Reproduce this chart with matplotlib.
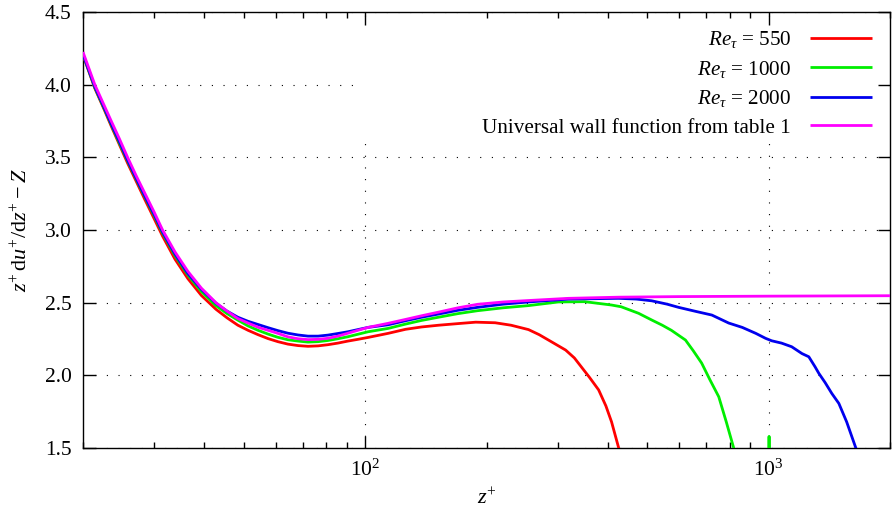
import numpy as np
import matplotlib
matplotlib.use("Agg")
import matplotlib.pyplot as plt
from matplotlib.patches import Rectangle
from matplotlib.ticker import FormatStrFormatter, NullFormatter, LogLocator

plt.rcParams['font.family'] = ['Liberation Serif', 'DejaVu Serif']
plt.rcParams['mathtext.fontset'] = 'custom'
plt.rcParams['mathtext.rm'] = 'Liberation Serif'
plt.rcParams['mathtext.it'] = 'Liberation Serif:italic'
plt.rcParams['mathtext.bf'] = 'Liberation Serif:bold'

# shared z+ points of the near-wall part
z_wall_part = [20, 21.4, 22.5, 23.5, 24.6, 25.8, 27.1, 28.5, 30, 31.5, 33.8, 36.4, 39.3,
               42.7, 45.5, 48.4, 51.3, 54.3, 57.5, 60.8, 64.4, 68.2, 72.2, 76.5, 80.9,
               85.6, 90.7, 96, 101.7, 114, 126, 138, 152]

# Re_tau = 550
z_550 = z_wall_part + [173, 188, 210, 230, 254, 270, 290, 314, 330, 343, 360, 379, 395,
                       408, 425, 440]
y_550 = [4.205, 3.975, 3.838, 3.715, 3.59, 3.46, 3.335, 3.207, 3.08, 2.958, 2.80, 2.665, 2.55,
         2.455, 2.396, 2.345, 2.31, 2.28, 2.253, 2.232, 2.215, 2.205, 2.20, 2.203, 2.211,
         2.222, 2.236, 2.248, 2.261, 2.289, 2.317, 2.333, 2.345,
         2.358, 2.366, 2.362, 2.345, 2.315, 2.28, 2.23, 2.174, 2.12, 2.06, 1.985, 1.90, 1.79,
         1.68, 1.5, 1.35]

# Re_tau = 1000
z_1000 = z_wall_part + [170, 190, 220, 254, 301, 350, 408, 431, 476, 513, 545, 574, 622,
                        650, 682, 715, 752, 785, 819, 900, 996, 1002, 1008]
y_1000 = [4.21, 3.98, 3.845, 3.725, 3.60, 3.475, 3.35, 3.225, 3.10, 2.978, 2.825, 2.69, 2.577,
          2.48, 2.425, 2.38, 2.34, 2.31, 2.284, 2.262, 2.245, 2.236, 2.229, 2.232, 2.24,
          2.252, 2.266, 2.283, 2.30, 2.323, 2.353, 2.378, 2.40,
          2.425, 2.445, 2.465, 2.48, 2.505, 2.507, 2.484, 2.472, 2.427, 2.381, 2.345, 2.31, 2.243,
          2.17, 2.085, 1.97, 1.853, 1.68, 1.5, 1.0, 0.6, 1.58, 0.6]

# Re_tau = 2000
z_2000 = z_wall_part + [170, 190, 220, 254, 319, 425, 470, 513, 560, 598,
                        660, 723, 796, 860, 929, 982, 1017, 1076, 1140, 1209, 1257, 1302, 1331,
                        1380, 1433, 1492, 1560, 1644, 1700]
y_2000 = [4.21, 3.985, 3.85, 3.73, 3.61, 3.48, 3.355, 3.23, 3.108, 2.985, 2.835, 2.70, 2.592,
          2.497, 2.442, 2.40, 2.372, 2.35, 2.328, 2.308, 2.29, 2.278, 2.27, 2.27, 2.277,
          2.288, 2.30, 2.315, 2.33, 2.348, 2.376, 2.40, 2.422,
          2.448, 2.468, 2.49, 2.505, 2.525, 2.530, 2.525, 2.513, 2.49, 2.468,
          2.44, 2.415, 2.36, 2.33, 2.289, 2.255, 2.238, 2.222, 2.197, 2.15, 2.128, 2.06, 2.014,
          1.95, 1.876, 1.807, 1.68, 1.5, 1.38]

# universal wall function
z_wall = z_wall_part + [170, 190, 220, 254, 319, 425, 600, 1000, 2000]
y_wall = [4.225, 4.0, 3.866, 3.75, 3.63, 3.5, 3.373, 3.25, 3.125, 3.0, 2.85, 2.715, 2.60,
          2.5, 2.442, 2.391, 2.36, 2.331, 2.31, 2.289, 2.265, 2.252, 2.246, 2.248, 2.255,
          2.27, 2.29, 2.31, 2.33, 2.358, 2.385, 2.41, 2.435,
          2.465, 2.489, 2.505, 2.515, 2.53, 2.538, 2.542, 2.545, 2.548]

labels = [r'$Re_{\tau}$ = 550', r'$Re_{\tau}$ = 1000', r'$Re_{\tau}$ = 2000',
          'Universal wall function from table 1']
colors = ['#ff0000', '#00ee00', '#0000ee', '#ff00ff']

fig = plt.figure(figsize=(8.92, 5.15), dpi=100)
ax = fig.add_axes([0.093, 0.130, 0.905, 0.8467])

series = [(z_550, y_550), (z_1000, y_1000), (z_2000, y_2000), (z_wall, y_wall)]
for (zz, yy), c, lab in zip(series, colors, labels):
    ax.plot(zz, yy, color=c, lw=2.0, label=lab, zorder=3, solid_capstyle='butt',
            solid_joinstyle='round')

ax.set_xscale('log')
ax.set_xlim(20, 2000)
ax.set_ylim(1.5, 4.5)
ax.set_yticks(np.arange(1.5, 4.51, 0.5))
ax.yaxis.set_major_formatter(FormatStrFormatter('%.1f'))
ax.xaxis.set_minor_locator(LogLocator(base=10, subs=np.arange(2, 10)))
ax.xaxis.set_minor_formatter(NullFormatter())

# dotted grid, drawn by hand so the key box can hide it
grid_style = dict(color='black', lw=0.8, linestyle=(0, (1, 9.5)), zorder=0.6)
for yv in ax.get_yticks():
    ax.axhline(yv, **grid_style)
for xv in [100, 1000]:
    ax.axvline(xv, **grid_style)

# opaque key box (gnuplot style)
ax.add_patch(Rectangle((0.339, 0.706), 0.661 - 0.014, 0.294 - 0.027, transform=ax.transAxes,
                       facecolor='white', edgecolor='none', zorder=0.8))

ax.tick_params(which='both', direction='in', top=True, right=True, labelsize=15.5)
ax.tick_params(which='major', length=9, width=1.0)
ax.tick_params(which='minor', length=4.5, width=1.0)
ax.tick_params(axis='x', which='major', pad=8)
ax.tick_params(axis='y', which='major', pad=8)
for sp in ax.spines.values():
    sp.set_linewidth(1.0)

ax.set_xlabel(r'$z^{+}$', fontsize=16, labelpad=6)
ax.set_ylabel(r'$z^{+}\,\mathrm{d}u^{+}/\mathrm{d}z^{+} - Z$', fontsize=16, labelpad=9)

leg = ax.legend(loc='upper right', bbox_to_anchor=(0.991, 0.985), frameon=False,
                markerfirst=False, fontsize=15.2, handlelength=2.95, handletextpad=0.9,
                labelspacing=0.41, borderpad=0.0)

fig.savefig('out.png', dpi=100)
